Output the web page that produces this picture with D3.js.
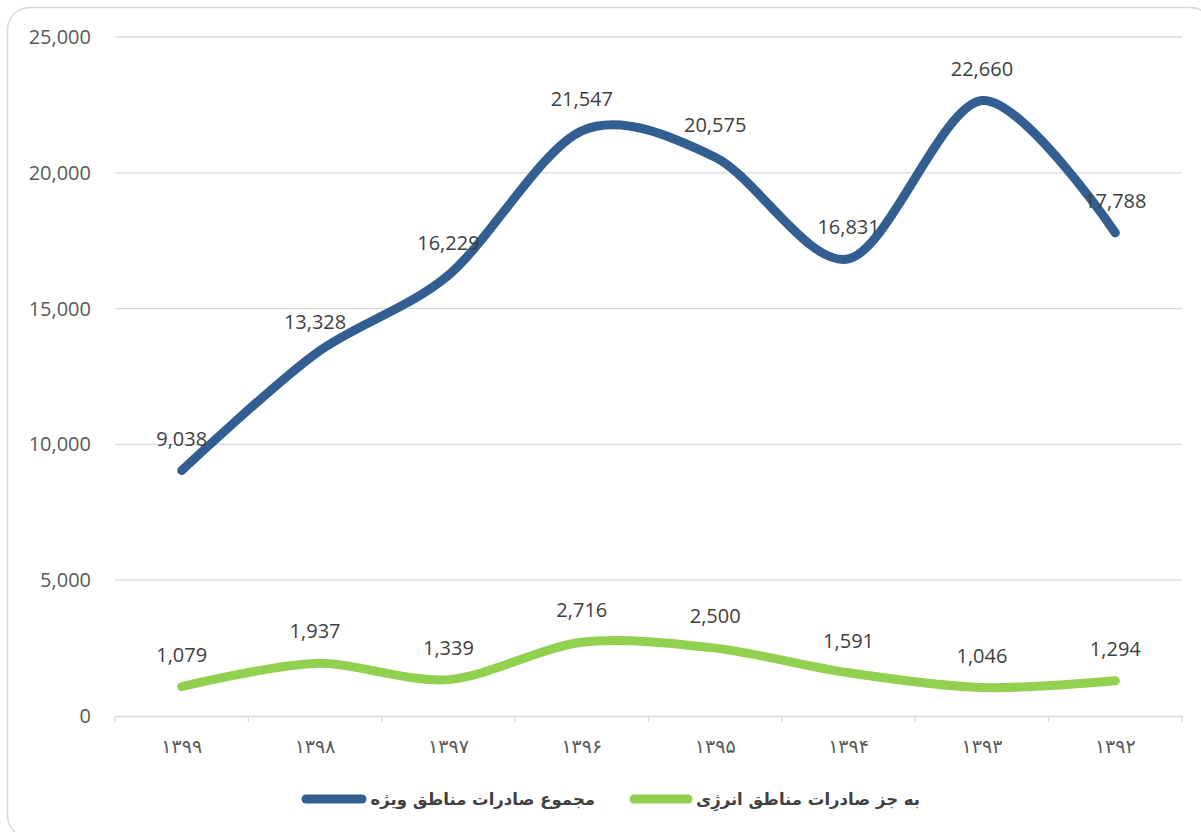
<!DOCTYPE html>
<html>
<head>
<meta charset="utf-8">
<script src="https://cdn.jsdelivr.net/npm/d3@7"></script>
<style>
  html, body { margin: 0; padding: 0; background: #fff; }
  svg { display: block; }
</style>
</head>
<body>
<div id="chart"></div>
<script>
const years = ["۱۳۹۹", "۱۳۹۸", "۱۳۹۷", "۱۳۹۶", "۱۳۹۵", "۱۳۹۴", "۱۳۹۳", "۱۳۹۲"];
const totalZones = [9038, 13328, 16229, 21547, 20575, 16831, 22660, 17788];
const nonEnergy = [1079, 1937, 1339, 2716, 2500, 1591, 1046, 1294];
const yTicks = [0, 5000, 10000, 15000, 20000, 25000];
const seriesNames = ["مجموع صادرات مناطق ویژه", "به جز صادرات مناطق انرژِی"];

const width = 1201, height = 832;
const margin = { top: 37, right: 19, bottom: 116, left: 115 };
const numFont = "'Open Sans', Lato, sans-serif";
const faFont = "'DejaVu Sans', sans-serif";

const svg = d3.select("#chart").append("svg")
  .attr("width", width).attr("height", height);

// chart area border
svg.append("rect")
  .attr("x", 7.5).attr("y", 7.5)
  .attr("width", 1205).attr("height", 830)
  .attr("rx", 22).attr("ry", 22)
  .attr("fill", "#fff").attr("stroke", "#d9d9d9").attr("stroke-width", 1.5);

const x = d3.scaleBand()
  .domain(years)
  .range([margin.left, width - margin.right])
  .padding(0);

const y = d3.scaleLinear()
  .domain([0, 25000])
  .range([height - margin.bottom, margin.top]);

// gridlines
svg.append("g")
  .selectAll("line")
  .data(yTicks.filter(d => d > 0))
  .join("line")
  .attr("x1", margin.left).attr("x2", width - margin.right)
  .attr("y1", d => y(d)).attr("y2", d => y(d))
  .attr("stroke", "#d9d9d9").attr("stroke-width", 1.3);

// y axis labels
svg.append("g")
  .selectAll("text")
  .data(yTicks)
  .join("text")
  .attr("x", 91).attr("y", d => y(d))
  .attr("dy", "0.35em")
  .attr("text-anchor", "end")
  .attr("font-family", numFont).attr("font-size", 20)
  .attr("fill", "#595959")
  .text(d => d3.format(",")(d));

// x axis
const xAxis = svg.append("g")
  .attr("transform", `translate(0,${y(0)})`)
  .call(d3.axisBottom(x).tickSize(0).tickFormat(""));
xAxis.select(".domain").attr("stroke", "#d9d9d9").attr("stroke-width", 1.3);

const bounds = years.map(d => x(d)).concat([x(years[years.length - 1]) + x.bandwidth()]);
svg.append("g")
  .selectAll("line")
  .data(bounds)
  .join("line")
  .attr("x1", d => d).attr("x2", d => d)
  .attr("y1", y(0)).attr("y2", y(0) + 6)
  .attr("stroke", "#d9d9d9").attr("stroke-width", 1.3);

svg.append("g")
  .selectAll("text")
  .data(years)
  .join("text")
  .attr("x", d => x(d) + x.bandwidth() / 2)
  .attr("y", y(0) + 30)
  .attr("dy", "0.35em")
  .attr("text-anchor", "middle")
  .attr("font-family", faFont).attr("font-size", 19)
  .attr("fill", "#595959")
  .text(d => d);

const cx = i => x(years[i]) + x.bandwidth() / 2;
const line = d3.line()
  .x((d, i) => cx(i))
  .y(d => y(d))
  .curve(d3.curveCardinal.tension(0.1));

const series = [
  { name: seriesNames[0], values: totalZones, color: "#335e92" },
  { name: seriesNames[1], values: nonEnergy, color: "#92d050" }
];

series.forEach(s => {
  svg.append("path")
    .datum(s.values)
    .attr("d", line)
    .attr("fill", "none")
    .attr("stroke", s.color)
    .attr("stroke-width", 9)
    .attr("stroke-linecap", "round")
    .attr("stroke-linejoin", "round");
});

series.forEach(s => {
  svg.append("g")
    .selectAll("text")
    .data(s.values)
    .join("text")
    .attr("x", (d, i) => cx(i))
    .attr("y", d => y(d) - 25)
    .attr("text-anchor", "middle")
    .attr("font-family", numFont).attr("font-size", 20)
    .attr("fill", "#404040")
    .text(d => d3.format(",")(d));
});

// legend
const legendItems = [
  { name: seriesNames[0], color: series[0].color, x1: 306, x2: 362, tx: 595 },
  { name: seriesNames[1], color: series[1].color, x1: 634, x2: 688, tx: 920 }
];
const legend = svg.append("g");
legendItems.forEach(l => {
  legend.append("line")
    .attr("x1", l.x1).attr("x2", l.x2)
    .attr("y1", 799).attr("y2", 799)
    .attr("stroke", l.color).attr("stroke-width", 9)
    .attr("stroke-linecap", "round");
  legend.append("text")
    .attr("x", l.tx).attr("y", 799)
    .attr("dy", "0.35em")
    .attr("text-anchor", "start")
    .attr("direction", "rtl")
    .attr("font-family", faFont).attr("font-size", 16.5)
    .attr("font-weight", "bold")
    .attr("fill", "#404040")
    .text(l.name);
});
</script>
</body>
</html>
